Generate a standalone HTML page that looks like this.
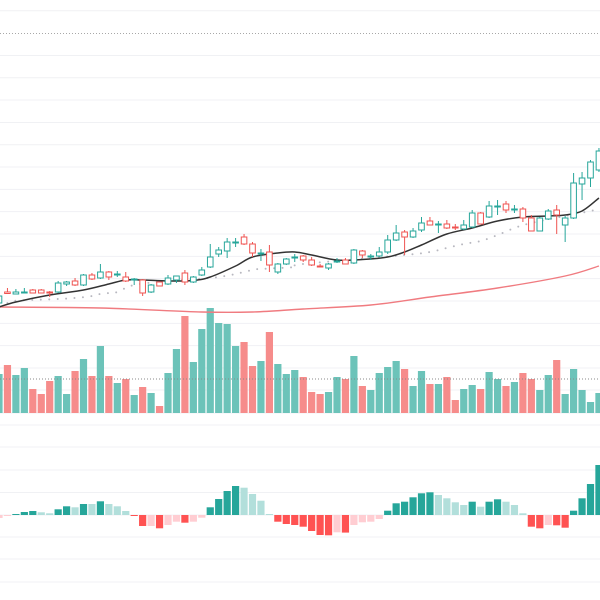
<!DOCTYPE html>
<html><head><meta charset="utf-8"><style>
html,body{margin:0;padding:0;background:#fff;}
svg{display:block;font-family:"Liberation Sans",sans-serif;}
</style></head>
<body>
<svg id="chart" width="600" height="600" viewBox="0 0 600 600" xmlns="http://www.w3.org/2000/svg">
<g id="grid"></g>
<line x1="0" x2="600" y1="33.5" y2="33.5" stroke="#a8a8a8" stroke-width="1" stroke-dasharray="1 2"/>
<g id="vol"></g>
<g id="hist"></g>
<g id="lines"></g>
<g id="candles"></g>
</svg>
<script>
const opens  = [97,108,106,107,110,110,108,108,116,119,115,125,122,128,125,123,120,120,108,118,116,120,127,118,125,133,146,149,157,163,156,146,148,128,136,142,144,140,134,132,138,140,137,149,143,144,148,160,168,163,170,179,175,176,173,171,173,187,183,193,196,190,191,182,169,181,190,175,182,216,222,230];
const closes = [104,106.5,108,108,107,107,107,117,118,115,125,121,128,123,126,119,121,107,115,114,122,124,118,123,130,143,150,158,158,156,147,147,135,136,141,143,140,135,133,136,139,136,150,145,144,148,160,167,163,169,177,175,176,172,172,175,187,176,194,194,190,191,182,169,182,189,185,182,217,222,238,249];
const highs  = [106,112,111,112,111,111,109,119,119,122,126,127,136,129,129,128,122,121,116,118,125,124,130,124,133,156,153,162,162,166,158,151,155,137,142,146,145,143,136,137,142,142,151,150,146,153,165,175,170,172,183,183,179,180,176,180,190,188,199,200,199,195,193,185,183,191,195,184,227,228,240,252];
const lows   = [96,106,106,107,107,107,103,107,114,114,114,120,121,120,123,118,115,104,107,114,115,117,115,117,124,132,143,142,153,155,143,139,128,126,135,138,138,134,133,130,137,136,136,142,140,143,146,159,145,162,168,175,167,171,170,170,172,176,182,185,187,187,178,169,169,180,166,158,181,200,213,228];
const volumes = [39,48,38,45,24,19,32,37,19,42,54,37,67,37,30,34,18,26,20,7,40,64,97,51,84,105,90,89,67,71,47,52,81,49,39,43,36,21,19,21,36,34,57,27,23,40,46,52,44,27,42,29,29,36,13,24,28,24,41,34,27,31,40,34,23,38,53,19,44,23,11,20];
const volumeAvg = 34;
const histValues = [-3,-1,1,3,4,2.7,1.7,5.7,8.7,7.7,11,11,13.7,11,8.7,4,-1,-11,-11,-13.3,-10,-6.7,-7.7,-6.7,-2.7,7.7,16,24,29,27.3,21,14.3,1,-6.7,-9,-10,-11.7,-16,-20,-20.3,-17.3,-17.6,-10,-7.3,-6.7,-4,4.3,11.7,13.3,17.7,21.7,22.7,20,16.7,12.7,10,13.3,8.3,13.3,15.7,13.3,10,1.7,-11.7,-13.3,-10,-10.3,-12.7,4.3,16.7,31,50];
const maFastIdx = [0,2,6,10,13,15,17,20,23,25,28,30,33,35,37,40,43,46,48,50,53,56,59,62,65,67,69,71];
const maFastVal = [93,98,105,110,116,120,120,119,119.5,123,134,143,147,148,145,140,140.5,143,148,155,166,172,179,183,184,185,189,202];
const maMidIdx = [1,2,7,9,11,12,13,14,16,20,26,30,31,35,36,48,51,53,55,57,59,61,63,67,70,71];
const maMidVal = [97,99.3,101,102,104,106,107,108,115,119,123,130,131,133,136,145,148,152,156,159,165,172,177,184,189,191];
const maSlowIdx = [0,12,24,30,36,44,51,59,67,71];
const maSlowVal = [93,92,88,88,91,95,103,112,124,134];

const NS = "http://www.w3.org/2000/svg";
function xAt(i){ return -1 + 8.45*i; }
function yP(p){ return 400 - p; }
function yV(v){ return 413 - v; }
function yH(h){ return 515 - h; }
function mk(tag, attrs, parent){ const e=document.createElementNS(NS,tag); for(const k in attrs) e.setAttribute(k, attrs[k]); parent.appendChild(e); return e; }

// grid
const gridYs = [10.7,55.5,77.7,100,122.5,144.7,167,189.4,211.6,234,256.4,278.6,301,323.4,345.6,368,390,413,425,447,470,492.5,515,537,559,582];
const grid = document.getElementById('grid');
gridYs.forEach(y=>{
  const l = mk('line',{x1:0,x2:600,y1:y,y2:y,stroke:'#f0f1f4','stroke-width':1},grid);
  
  
});

// volume
const vol = document.getElementById('vol');
volumes.forEach((v,i)=>{
  const up = closes[i] >= opens[i];
  const r = mk('rect',{x:xAt(i)-3.6,y:yV(v),width:7.2,height:v,fill: up ? '#6cc3b9' : '#f68c8b'},vol);
  
  
});
const va = mk('line',{x1:0,x2:600,y1:yV(volumeAvg),y2:yV(volumeAvg),stroke:'#8a8a8a','stroke-width':1,'stroke-dasharray':'1 2'},vol);



// histogram
const hist = document.getElementById('hist');
histValues.forEach((h,i)=>{
  const prev = i>0 ? histValues[i-1] : h;
  let c;
  if(h>=0) c = (i>0 && h>prev) ? '#26a69a' : '#b2dfdb';
  else c = (i>0 && h<prev) ? '#ff5252' : '#ffcdd2';
  const top = h>=0 ? yH(h) : yH(0);
  const r = mk('rect',{x:xAt(i)-3.6,y:top,width:7.2,height:Math.max(Math.abs(h),0.8),fill:c},hist);
  
  
});

// smooth lines
function smoothPath(idx, vals){
  const pts = idx.map((k,j)=>[xAt(k), yP(vals[j])]);
  let d = 'M'+pts[0][0]+','+pts[0][1];
  for(let j=0;j<pts.length-1;j++){
    const p0=pts[Math.max(0,j-1)], p1=pts[j], p2=pts[j+1], p3=pts[Math.min(pts.length-1,j+2)];
    const c1x=p1[0]+(p2[0]-p0[0])/6, c1y=p1[1]+(p2[1]-p0[1])/6;
    const c2x=p2[0]-(p3[0]-p1[0])/6, c2y=p2[1]-(p3[1]-p1[1])/6;
    d += ' C'+c1x+','+c1y+' '+c2x+','+c2y+' '+p2[0]+','+p2[1];
  }
  return d;
}
const lines = document.getElementById('lines');
const slow = mk('path',{d:smoothPath(maSlowIdx,maSlowVal),fill:'none',stroke:'#f07b80','stroke-width':1.4},lines);


const mid = mk('path',{d:smoothPath(maMidIdx,maMidVal),fill:'none',stroke:'#b8b8c0','stroke-width':2,'stroke-linecap':'round','stroke-dasharray':'0 8.45'},lines);


const fast = mk('path',{d:smoothPath(maFastIdx,maFastVal),fill:'none',stroke:'#333','stroke-width':1.5},lines);



// candles
const cg = document.getElementById('candles');
opens.forEach((o,i)=>{
  const c = closes[i], up = c >= o;
  const col = up ? '#26a69a' : '#ef5350';
  const x = xAt(i);
  const g = mk('g',{},cg);
  
  
  mk('line',{x1:x,x2:x,y1:yP(highs[i]),y2:yP(lows[i]),stroke:col,'stroke-width':1},g);
  const top = yP(Math.max(o,c)), bh = Math.max(Math.abs(yP(o)-yP(c)),1);
  mk('rect',{x:x-2.8,y:top,width:5.6,height:bh,fill:'#fff',stroke:col,'stroke-width':1},g);
});
</script>
</body></html>
